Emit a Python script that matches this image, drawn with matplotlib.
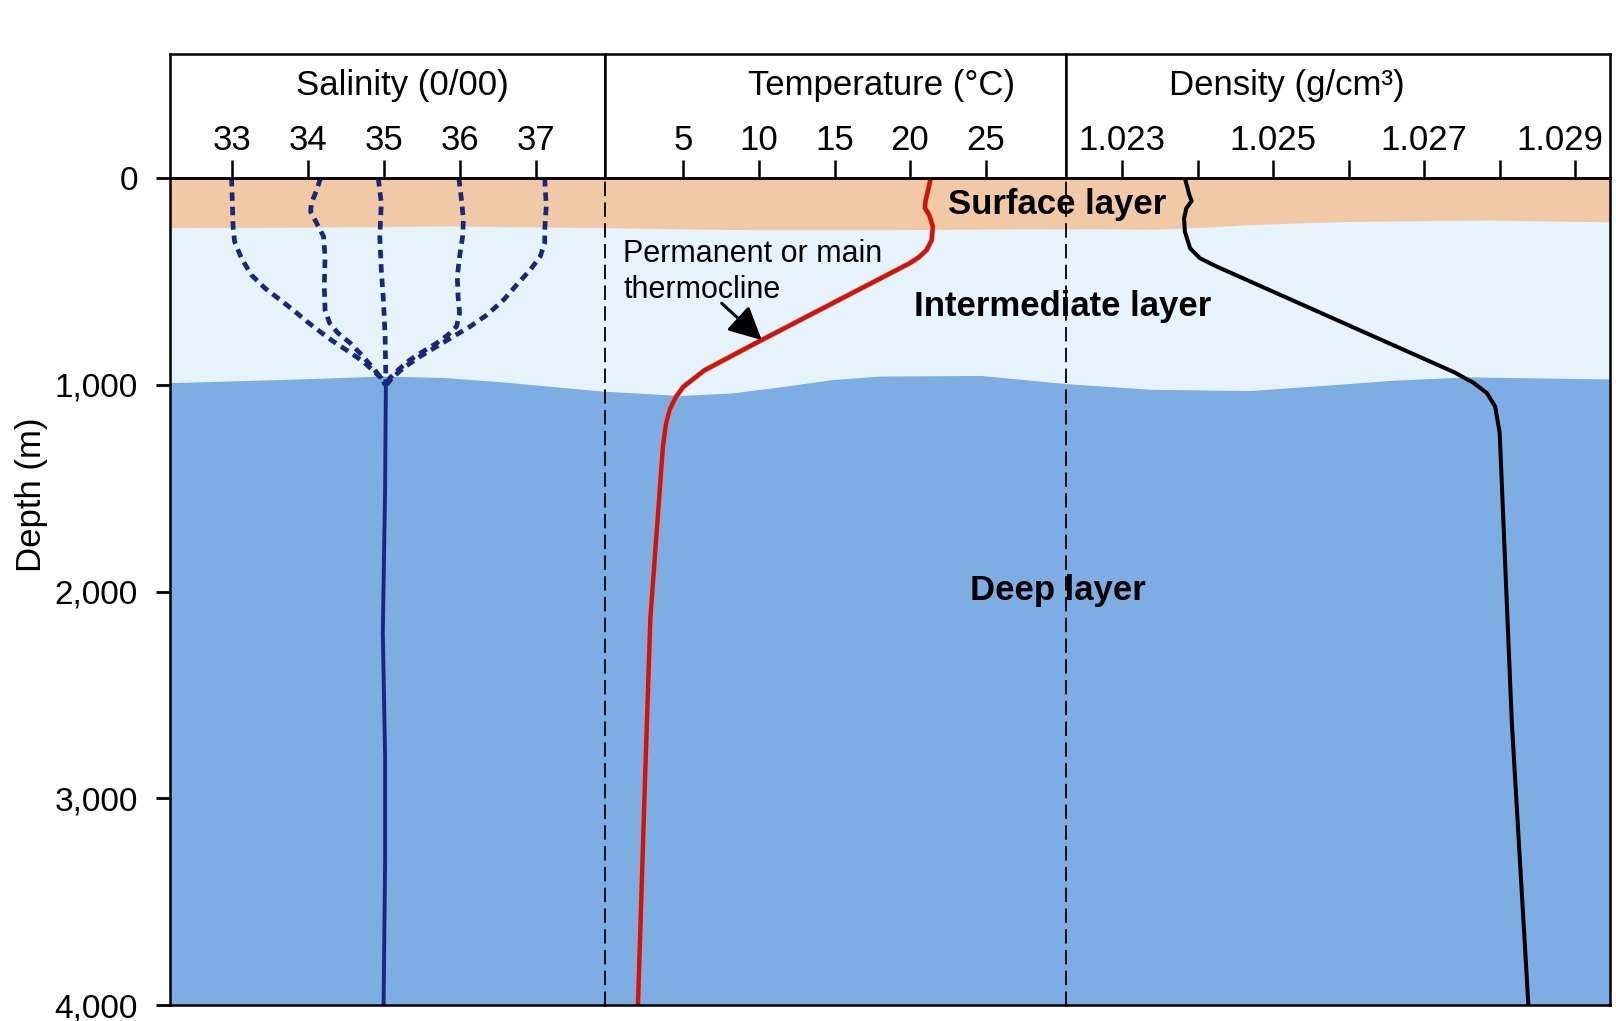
import numpy as np
import matplotlib
matplotlib.use('Agg')
import matplotlib.pyplot as plt
from matplotlib.transforms import ScaledTranslation

plt.rcParams['font.family'] = ['Liberation Sans', 'DejaVu Sans']

W, H = 1616, 1021

# ---------------- data ----------------
depth_ticks = [0, 1000, 2000, 3000, 4000]
depth_labels = ['0', '1,000', '2,000', '3,000', '4,000']
sal_ticks = [33, 34, 35, 36, 37]
temp_ticks = [5, 10, 15, 20, 25]
dens_ticks = [1.023, 1.024, 1.025, 1.026, 1.027, 1.028, 1.029]
dens_labels = ['1.023', '', '1.025', '', '1.027', '', '1.029']

# salinity profiles in the upper ocean (dashed), converge to 35 at ~1000 m
sal33_d = [0, 235, 308, 388, 469, 533, 581, 638, 694, 742, 791, 839, 887, 968, 1000]
sal33_v = [33.0, 33.02, 33.04, 33.13, 33.26, 33.44, 33.61, 33.81, 33.99, 34.16, 34.34, 34.54, 34.73, 34.97, 35.02]
sal34_d = [0, 58, 122, 163, 219, 283, 380, 525, 638, 702, 750, 798, 855, 919, 976, 1000]
sal34_v = [34.17, 34.12, 34.05, 34.04, 34.12, 34.21, 34.23, 34.22, 34.23, 34.29, 34.40, 34.56, 34.71, 34.86, 34.99, 35.02]
sal35_d = [0, 122, 283, 444, 605, 767, 976, 1000]
sal35_v = [34.93, 34.97, 34.95, 34.97, 35.0, 35.02, 35.03, 35.03]
sal36_d = [0, 122, 203, 283, 380, 477, 573, 654, 718, 758, 798, 839, 879, 919, 968, 1000]
sal36_v = [35.99, 36.03, 36.05, 36.04, 36.0, 35.97, 35.98, 36.0, 35.96, 35.85, 35.70, 35.52, 35.35, 35.22, 35.08, 35.03]
sal37_d = [0, 138, 251, 315, 380, 444, 509, 589, 662, 718, 766, 815, 863, 919, 968, 1000]
sal37_v = [37.12, 37.14, 37.12, 37.12, 37.06, 36.93, 36.77, 36.58, 36.36, 36.14, 35.92, 35.70, 35.48, 35.26, 35.11, 35.04]
# deep salinity (solid)
sal_deep_d = [1000, 1500, 2200, 2800, 3300, 4000]
sal_deep_v = [35.03, 35.02, 34.99, 35.02, 35.02, 35.0]

# temperature profile
temp_d = [0, 55, 110, 145, 180, 235, 300, 348, 385, 415, 783, 930, 970, 1010, 1060, 1120, 1190, 1300, 2130, 2880, 4000]
temp_v = [21.36, 21.2, 21.02, 20.98, 21.27, 21.5, 21.43, 21.1, 20.55, 19.9, 10.2, 6.4, 5.7, 5.0, 4.5, 4.1, 3.85, 3.65, 2.82, 2.48, 2.0]

# density profile
dens_d = [0, 82, 111, 146, 195, 259, 340, 388, 428, 940, 990, 1040, 1105, 1233, 2628, 4000]
dens_v = [1.02383, 1.02389, 1.02392, 1.02385, 1.02382, 1.02383, 1.02390, 1.02403, 1.02425,
          1.02740, 1.02765, 1.02783, 1.02794, 1.02800, 1.02816, 1.02838]

# layer boundaries (fraction across the whole plot width, depth in m)
surf_x = [0, 0.09, 0.194, 0.299, 0.403, 0.507, 0.576, 0.646, 0.681, 0.72, 0.75, 0.819, 0.912, 1.0]
surf_d = [240, 238, 232, 240, 250, 250, 246, 245, 248, 238, 225, 210, 203, 212]
deep_x = [0, 0.09, 0.148, 0.19, 0.229, 0.299, 0.354, 0.39, 0.424, 0.46, 0.493, 0.563, 0.623, 0.681, 0.75,
          0.797, 0.85, 0.901, 1.0]
deep_d = [990, 972, 958, 965, 985, 1030, 1052, 1040, 1010, 975, 958, 955, 995, 1022, 1028,
          1005, 978, 962, 972]

# ---------------- layout ----------------
PL, PR = 170, 1610
HT, P0, P4 = 53.6, 178, 1005
S1, S2 = 605, 1066

TAN = '#F1C9A6'
LIGHT = '#E6F3FB'
DEEP = '#7EADE3'
NAVY = '#18287A'
RED = '#C8141B'


def rect(x0, y0, x1, y1):
    return [x0 / W, 1 - y1 / H, (x1 - x0) / W, (y1 - y0) / H]


fig = plt.figure(figsize=(W / 100, H / 100), dpi=100)
fig.patch.set_facecolor('white')

# background layers
bg = fig.add_axes(rect(PL, P0, PR, P4))
bg.set_xlim(0, 1)
bg.set_ylim(4000, 0)
bg.set_facecolor(LIGHT)
bg.fill_between(surf_x, 0, surf_d, color=TAN, lw=0)
bg.fill_between(deep_x, deep_d, 4000, color=DEEP, lw=0)
bg.set_xticks([])
bg.set_yticks([])
for s in bg.spines.values():
    s.set_visible(False)

# header boxes
for x0, x1 in [(PL, S1), (S1, S2), (S2, PR)]:
    h = fig.add_axes(rect(x0, HT, x1, P0))
    h.set_facecolor('white')
    h.set_xticks([])
    h.set_yticks([])
    for s in h.spines.values():
        s.set_linewidth(1.8)
        s.set_color('black')

panels = []
limits = [(32.19, 37.913), (-0.18, 30.31), (1.022256, 1.029461)]
for (x0, x1), lim in zip([(PL, S1), (S1, S2), (S2, PR)], limits):
    ax = fig.add_axes(rect(x0, P0, x1, P4))
    ax.set_facecolor('none')
    ax.set_xlim(*lim)
    ax.set_ylim(4000, 0)
    ax.xaxis.set_ticks_position('top')
    ax.tick_params(axis='x', top=True, bottom=False, labeltop=True, labelbottom=False,
                   direction='out', length=13, width=1.8, labelsize=25, pad=2)
    for s in ax.spines.values():
        s.set_linewidth(1.8)
        s.set_color('black')
    panels.append(ax)

sal_ax, temp_ax, dens_ax = panels

# y axis (depth)
sal_ax.set_yticks(depth_ticks)
sal_ax.set_yticklabels(depth_labels)
sal_ax.tick_params(axis='y', direction='out', length=10, width=2.0, labelsize=24, pad=13)
for ax in (temp_ax, dens_ax):
    ax.tick_params(axis='y', left=False, labelleft=False)
    ax.spines['left'].set_visible(False)
for ax in (sal_ax, temp_ax):
    ax.spines['right'].set_linestyle((0, (7, 4.5)))
    ax.spines['right'].set_linewidth(1.3)

sal_ax.set_xticks(sal_ticks)
sal_ax.set_xticklabels([str(v) for v in sal_ticks])
temp_ax.set_xticks(temp_ticks)
temp_ax.set_xticklabels([str(v) for v in temp_ticks])
dens_ax.set_xticks(dens_ticks)
dens_ax.set_xticklabels(dens_labels)

# last density label sits shifted left inside the box, as in the original
last = dens_ax.get_xticklabels()[-1]
last.set_transform(last.get_transform() + ScaledTranslation(-15 / 100, 0, fig.dpi_scale_trans))

# salinity lines
for v, d in [(sal33_v, sal33_d), (sal34_v, sal34_d), (sal35_v, sal35_d),
             (sal36_v, sal36_d), (sal37_v, sal37_d)]:
    sal_ax.plot(v, d, color=NAVY, lw=3.4, linestyle=(0, (1.8, 1.25)), dash_capstyle='butt',
                dash_joinstyle='round')
sal_ax.plot(sal_deep_v, sal_deep_d, color=NAVY, lw=2.8, solid_joinstyle='round')

# temperature
temp_ax.plot(temp_v, temp_d, color='#E8A33A', lw=4.2, solid_joinstyle='round', alpha=0.6)
temp_ax.plot(temp_v, temp_d, color=RED, lw=3.2, solid_joinstyle='round')

# density
dens_ax.plot(dens_v, dens_d, color='black', lw=2.9, solid_joinstyle='round')

# thermocline arrow
temp_ax.annotate('', xy=(10.19, 784), xytext=(7.54, 606),
                 arrowprops=dict(arrowstyle='-|>,head_length=0.5,head_width=0.25', color='black', lw=2.2,
                                 mutation_scale=40, shrinkA=0, shrinkB=0))

# ---------------- text ----------------
def ftext(x, y, s, **kw):
    fig.text(x / W, 1 - y / H, s, **kw)


ftext(402, 95, 'Salinity (0/00)', fontsize=25, ha='center', va='baseline')
ftext(881, 95, 'Temperature (°C)', fontsize=25, ha='center', va='baseline')
ftext(1287, 95, 'Density (g/cm³)', fontsize=25, ha='center', va='baseline')
ftext(31, 495, 'Depth (m)', fontsize=25, ha='center', va='center', rotation=90)

ftext(623, 261.7, 'Permanent or main', fontsize=22, ha='left', va='baseline')
ftext(623, 297.7, 'thermocline', fontsize=22, ha='left', va='baseline')

ftext(1057, 214, 'Surface layer', fontsize=25, fontweight='bold', ha='center', va='baseline')
ftext(1063, 316, 'Intermediate layer', fontsize=25, fontweight='bold', ha='center', va='baseline')
ftext(1058, 600, 'Deep layer', fontsize=25, fontweight='bold', ha='center', va='baseline')

fig.savefig('out.png', dpi=100, facecolor='white')
